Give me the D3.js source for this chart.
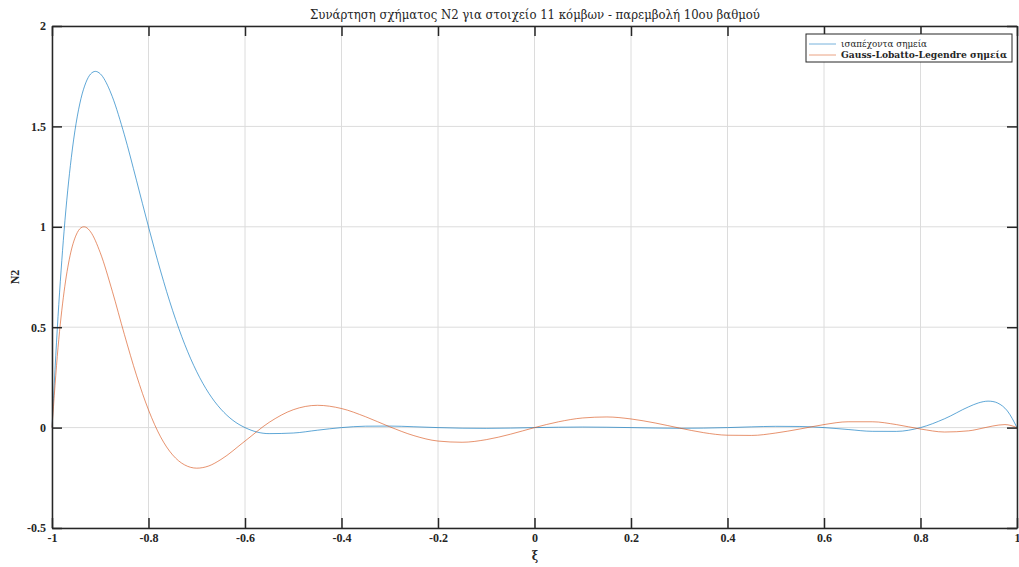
<!DOCTYPE html>
<html>
<head>
<meta charset="utf-8">
<script src="https://cdn.jsdelivr.net/npm/d3@7"></script>
<style>
  body { margin: 0; background: #fff; }
  svg text { fill: #262626; }
</style>
</head>
<body>
<div id="chart"></div>
<script>
// equispaced nodes, N2
let xEqui = [-1, -0.9875, -0.975, -0.96, -0.95, -0.94, -0.93, -0.92, -0.91, -0.9, -0.88, -0.875, -0.85, -0.825, -0.8, -0.775, -0.75, -0.725, -0.7, -0.675, -0.65, -0.625, -0.6, -0.55, -0.5, -0.45, -0.4, -0.35, -0.3, -0.25, -0.2, -0.15, -0.1, -0.05, 0, 0.1, 0.2, 0.3, 0.4, 0.45, 0.5, 0.55, 0.6, 0.65, 0.7, 0.75, 0.8, 0.85, 0.9, 0.92, 0.94, 0.95, 0.96, 0.98, 1];
let yEqui = [0, 0.553, 0.978, 1.344, 1.516, 1.638, 1.717, 1.761, 1.774, 1.762, 1.678, 1.648, 1.458, 1.232, 1, 0.780, 0.583, 0.415, 0.278, 0.171, 0.092, 0.036, 0, -0.030, -0.027, -0.013, 0, 0.007, 0.0076, 0.0043, 0, -0.003, -0.0038, -0.0024, 0, 0.0029, 0, -0.0035, 0, 0.0037, 0.0063, 0.0056, 0, -0.0095, -0.0185, -0.0188, 0, 0.0442, 0.1037, 0.1229, 0.1318, 0.1299, 0.1222, 0.0832, 0];

// Gauss-Lobatto-Legendre nodes, N2
let xGll = [-1, -0.9875, -0.975, -0.9625, -0.95, -0.94, -0.934, -0.93, -0.92, -0.9, -0.875, -0.85, -0.825, -0.8, -0.775, -0.75, -0.725, -0.7, -0.675, -0.65, -0.6, -0.55, -0.5, -0.45, -0.4, -0.35, -0.3, -0.25, -0.2, -0.15, -0.1, -0.05, 0, 0.05, 0.1, 0.15, 0.2, 0.25, 0.3, 0.35, 0.4, 0.45, 0.5, 0.55, 0.6, 0.65, 0.7, 0.75, 0.8, 0.85, 0.9, 0.934, 0.95, 0.975, 1];
let yGll = [0, 0.398, 0.676, 0.857, 0.959, 0.995, 1, 0.998, 0.975, 0.871, 0.679, 0.464, 0.261, 0.088, -0.046, -0.136, -0.186, -0.202, -0.191, -0.159, -0.067, 0.026, 0.089, 0.111, 0.095, 0.054, 0.004, -0.040, -0.067, -0.073, -0.060, -0.033, 0, 0.029, 0.048, 0.053, 0.043, 0.023, -0.002, -0.025, -0.038, -0.039, -0.027, -0.007, 0.015, 0.029, 0.029, 0.015, -0.007, -0.022, -0.016, 0, 0.008, 0.015, 0];

let xTicks = [-1, -0.8, -0.6, -0.4, -0.2, 0, 0.2, 0.4, 0.6, 0.8, 1];
let yTicks = [-0.5, 0, 0.5, 1, 1.5, 2];
let seriesNames = ["ισαπέχοντα σημεία", "Gauss-Lobatto-Legendre σημεία"];
let seriesColors = ["#0072BD", "#D95319"];

let width = 1019, height = 567;
let axLeft = 52, axRight = 1017, axTop = 26, axBottom = 528;
let tickFont = "'Liberation Serif', 'Times New Roman', serif";
let greekFont = "'DejaVu Serif Condensed', 'DejaVu Serif', serif";

let svg = d3.select("#chart").append("svg")
    .attr("width", width)
    .attr("height", height);

let x = d3.scaleLinear().domain([-1, 1]).range([axLeft, axRight]);
let y = d3.scaleLinear().domain([-0.5, 2]).range([axBottom, axTop]);

// grid
svg.append("g").selectAll("line")
    .data(xTicks)
    .enter().append("line")
    .attr("x1", d => x(d)).attr("x2", d => x(d))
    .attr("y1", axTop).attr("y2", axBottom)
    .attr("stroke", "#dcdcdc").attr("stroke-width", 1);
svg.append("g").selectAll("line")
    .data(yTicks)
    .enter().append("line")
    .attr("x1", axLeft).attr("x2", axRight)
    .attr("y1", d => y(d)).attr("y2", d => y(d))
    .attr("stroke", "#dcdcdc").attr("stroke-width", 1);

// curves
let line = d3.line()
    .x(d => x(d[0]))
    .y(d => y(d[1]))
    .curve(d3.curveMonotoneX);

let series = [d3.zip(xEqui, yEqui), d3.zip(xGll, yGll)];
series.forEach(function(s, i) {
    svg.append("path")
        .datum(s)
        .attr("d", line)
        .attr("fill", "none")
        .attr("stroke", seriesColors[i])
        .attr("stroke-opacity", 0.7)
        .attr("stroke-width", 0.9);
});

// axes (inward ticks, box on)
function styleAxis(g) {
    g.attr("font-family", tickFont);
    g.select(".domain").attr("stroke", "#262626").attr("stroke-width", 1.5);
    g.selectAll(".tick line").attr("stroke", "#262626").attr("stroke-width", 1.5);
    g.selectAll(".tick text")
        .style("font-family", tickFont)
        .style("font-size", "12px")
        .style("font-weight", "bold")
        .attr("fill", "#262626");
}

svg.append("g")
    .attr("transform", "translate(0," + axBottom + ")")
    .call(d3.axisBottom(x).tickValues(xTicks).tickSize(-10).tickSizeOuter(0).tickPadding(5).tickFormat(d => String(d)))
    .call(styleAxis);
svg.append("g")
    .attr("transform", "translate(0," + axTop + ")")
    .call(d3.axisTop(x).tickValues(xTicks).tickSize(-10).tickSizeOuter(0).tickFormat(""))
    .call(styleAxis);
svg.append("g")
    .attr("transform", "translate(" + axLeft + ",0)")
    .call(d3.axisLeft(y).tickValues(yTicks).tickSize(-10).tickSizeOuter(0).tickPadding(6).tickFormat(d => String(d)))
    .call(styleAxis);
svg.append("g")
    .attr("transform", "translate(" + axRight + ",0)")
    .call(d3.axisRight(y).tickValues(yTicks).tickSize(-10).tickSizeOuter(0).tickFormat(""))
    .call(styleAxis);

// title and labels
svg.append("text")
    .attr("x", 535)
    .attr("y", 19)
    .attr("text-anchor", "middle")
    .attr("textLength", 450)
    .attr("lengthAdjust", "spacingAndGlyphs")
    .style("font-family", greekFont)
    .style("font-size", "12.5px")
    .text("Συνάρτηση σχήματος N2 για στοιχείο 11 κόμβων - παρεμβολή 10ου βαθμού");

svg.append("text")
    .attr("x", 535)
    .attr("y", 560)
    .attr("text-anchor", "middle")
    .style("font-family", greekFont)
    .style("font-size", "12px")
    .style("font-weight", "bold")
    .text("ξ");

svg.append("text")
    .attr("transform", "translate(19," + (axTop + axBottom) / 2 + ") rotate(-90)")
    .attr("text-anchor", "middle")
    .style("font-family", tickFont)
    .style("font-size", "12px")
    .style("font-weight", "bold")
    .text("N2");

// legend
let legendWidths = [86, 166];
let legend = svg.append("g");
legend.append("rect")
    .attr("x", 806).attr("y", 34)
    .attr("width", 206).attr("height", 28)
    .attr("fill", "#fff")
    .attr("stroke", "#262626")
    .attr("stroke-width", 1);

legend.selectAll("line")
    .data(seriesNames)
    .enter().append("line")
    .attr("x1", 809).attr("x2", 836)
    .attr("y1", (d, i) => 44 + i * 11)
    .attr("y2", (d, i) => 44 + i * 11)
    .attr("stroke", (d, i) => seriesColors[i])
    .attr("stroke-opacity", 0.6)
    .attr("stroke-width", 0.9);

legend.selectAll("text")
    .data(seriesNames)
    .enter().append("text")
    .attr("x", 841)
    .attr("y", (d, i) => 44 + i * 11)
    .attr("dy", "0.35em")
    .attr("textLength", (d, i) => legendWidths[i])
    .attr("lengthAdjust", "spacingAndGlyphs")
    .style("font-family", greekFont)
    .style("font-size", "9.5px")
    .style("font-weight", (d, i) => i === 1 ? "bold" : "normal")
    .text(d => d);
</script>
</body>
</html>
